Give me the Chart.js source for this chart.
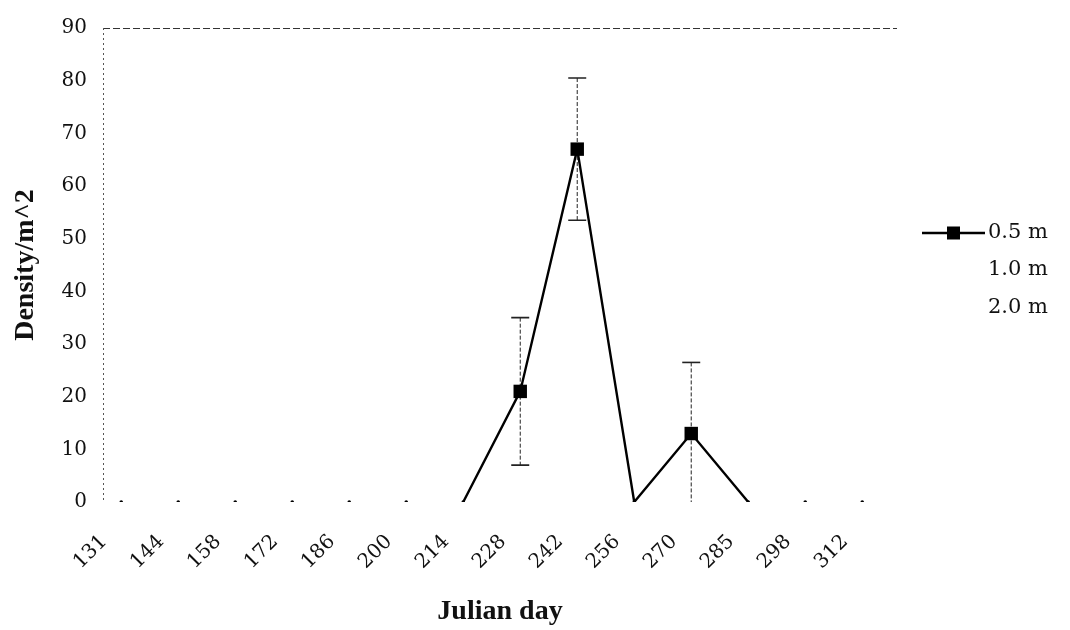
<!DOCTYPE html>
<html>
<head>
<meta charset="utf-8">
<script src="https://cdn.jsdelivr.net/npm/chart.js@4.4.0/dist/chart.umd.min.js"></script>
<style>
  html, body { margin: 0; padding: 0; background: #ffffff; }
  #wrap { width: 1070px; height: 630px; position: relative; }
</style>
</head>
<body>
<div id="wrap"><canvas id="c" width="1070" height="630"></canvas></div>
<script>
// Sampling dates (Julian day) and mean densities per depth
const julianDays = ['131', '144', '158', '172', '186', '200', '214', '228', '242', '256', '270', '285', '298', '312'];
const density05 = [0, 0, 0, 0, 0, 0, 0, 21, 67, 0, 13, 0, 0, 0];
const error05   = [0, 0, 0, 0, 0, 0, 0, 14, 13.5, 0, 13.5, 0, 0, 0];
const density10 = [0, 0, 0, 0, 0, 0, 0, 0, 0, 0, 0, 0, 0, 0];
const density20 = [0, 0, 0, 0, 0, 0, 0, 0, 0, 0, 0, 0, 0, 0];
const depthNames = ['0.5 m', '1.0 m', '2.0 m'];
const yMax = 90;
const yStep = 10;

const tickFont = { family: '"DejaVu Serif", "Liberation Serif", serif', size: 20 };
const titleFont = { family: '"Liberation Serif", "Times New Roman", serif', size: 28, weight: 'bold' };
const ink = '#111111';

const toPoints = arr => arr.map((v, i) => ({ x: i, y: v }));

// Vertical error bars (mean ± SE) drawn through the chart's own scales
const errorBars = {
  id: 'errorBars',
  beforeDatasetsDraw(chart) {
    const { ctx } = chart;
    const xs = chart.scales.x, ys = chart.scales.y;
    ctx.save();
    density05.forEach((v, i) => {
      const e = error05[i];
      if (!e) return;
      const x = xs.getPixelForValue(i);
      const lo = Math.max(0, v - e);
      const yTop = ys.getPixelForValue(v + e);
      const yBot = ys.getPixelForValue(lo);
      ctx.strokeStyle = '#222';
      ctx.lineWidth = 1;
      ctx.setLineDash([4, 2]);
      ctx.beginPath();
      ctx.moveTo(x, yTop);
      ctx.lineTo(x, yBot);
      ctx.stroke();
      ctx.setLineDash([]);
      ctx.lineWidth = 1.6;
      ctx.beginPath();
      ctx.moveTo(x - 9, yTop); ctx.lineTo(x + 9, yTop);
      if (lo > 0) { ctx.moveTo(x - 9, yBot); ctx.lineTo(x + 9, yBot); }
      ctx.stroke();
    });
    // dotted value axis on the left edge of the plot
    const a = chart.chartArea;
    ctx.strokeStyle = '#555';
    ctx.lineWidth = 1;
    ctx.setLineDash([2, 3]);
    ctx.beginPath();
    ctx.moveTo(a.left + 0.5, a.top);
    ctx.lineTo(a.left + 0.5, a.bottom);
    ctx.stroke();
    ctx.restore();
  }
};

// Legend on the right: line-and-marker key where the series is drawn
const sideLegend = {
  id: 'sideLegend',
  afterDraw(chart) {
    const { ctx } = chart;
    const x0 = 922, x1 = 985, textX = 988;
    const rows = [233, 270, 308];
    ctx.save();
    ctx.font = '21px "DejaVu Serif", "Liberation Serif", serif';
    ctx.textBaseline = 'middle';
    ctx.textAlign = 'left';
    chart.data.datasets.forEach((ds, i) => {
      const y = rows[i];
      if (ds.borderColor !== 'rgba(0,0,0,0)') {
        ctx.strokeStyle = ds.borderColor;
        ctx.lineWidth = ds.borderWidth;
        ctx.beginPath();
        ctx.moveTo(x0, y); ctx.lineTo(x1, y);
        ctx.stroke();
        ctx.fillStyle = ds.borderColor;
        ctx.fillRect((x0 + x1) / 2 - 6.5, y - 6.5, 13, 13);
      }
      ctx.fillStyle = ink;
      ctx.fillText(ds.label, textX, y);
    });
    ctx.restore();
  }
};

const labelShift = 0.3;
const xMin = -0.32, xMax = 13.61;

new Chart(document.getElementById('c'), {
  type: 'line',
  data: {
    datasets: [
      {
        label: depthNames[0],
        data: toPoints(density05),
        borderColor: '#000000',
        backgroundColor: '#000000',
        borderWidth: 2.4,
        pointStyle: c => (c.raw && c.raw.y > 0 ? 'rect' : 'circle'),
        pointRadius: c => (c.raw && c.raw.y > 0 ? 9.5 : 1.8),
        pointBorderWidth: 0,
        pointBackgroundColor: '#000000',
        segment: {
          borderColor: c => (c.p0.parsed.y === 0 && c.p1.parsed.y === 0 ? 'rgba(0,0,0,0)' : '#000000')
        },
        tension: 0
      },
      {
        label: depthNames[1],
        data: toPoints(density10),
        borderColor: 'rgba(0,0,0,0)',
        borderWidth: 2,
        pointRadius: 0
      },
      {
        label: depthNames[2],
        data: toPoints(density20),
        borderColor: 'rgba(0,0,0,0)',
        borderWidth: 2,
        pointRadius: 0
      }
    ]
  },
  options: {
    responsive: false,
    animation: false,
    layout: { padding: { top: 23, right: 173, left: 0, bottom: 0 } },
    plugins: {
      legend: { display: false },
      tooltip: { enabled: false }
    },
    scales: {
      x: {
        type: 'linear',
        display: false,
        min: xMin,
        max: xMax
      },
      xl: {
        type: 'linear',
        position: 'bottom',
        min: xMin + labelShift,
        max: xMax + labelShift,
        afterFit: s => { s.height = 128; },
        grid: { display: false, drawTicks: false },
        border: { display: false },
        ticks: {
          stepSize: 1,
          autoSkip: false,
          includeBounds: false,
          minRotation: 45,
          maxRotation: 45,
          padding: 28,
          color: ink,
          font: tickFont,
          callback: v => (Number.isInteger(v) && julianDays[v] !== undefined ? julianDays[v] : '')
        },
        title: {
          display: true,
          text: 'Julian day',
          color: ink,
          font: titleFont,
          padding: { top: 0, bottom: 1 }
        }
      },
      y: {
        min: 0,
        max: yMax,
        afterFit: s => { s.width = 103; },
        grid: {
          drawTicks: false,
          lineWidth: 1,
          color: c => (c.tick && c.tick.value === yMax ? '#333333' : 'rgba(0,0,0,0)')
        },
        border: { display: false, dash: [7, 3] },
        ticks: {
          stepSize: yStep,
          padding: 16,
          color: ink,
          font: tickFont
        },
        title: {
          display: true,
          text: 'Density/m^2',
          color: ink,
          font: titleFont,
          padding: { top: 9, bottom: 0 }
        }
      }
    }
  },
  plugins: [errorBars, sideLegend]
});
</script>
</body>
</html>
